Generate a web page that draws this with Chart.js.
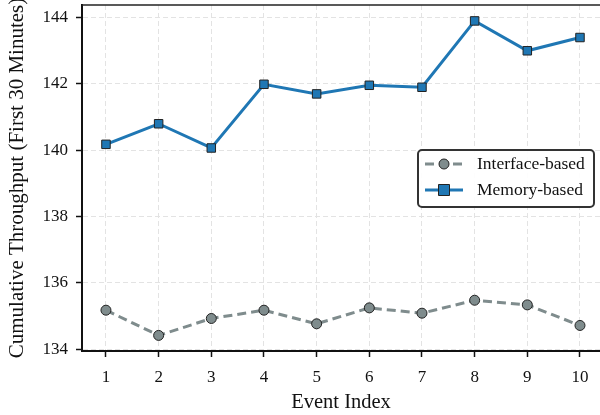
<!DOCTYPE html>
<html>
<head>
<meta charset="utf-8">
<script src="https://cdn.jsdelivr.net/npm/chart.js@4"></script>
<style>
  html, body { margin: 0; padding: 0; background: #fff; overflow: hidden; }
  #wrap { width: 600px; height: 415px; }
</style>
</head>
<body>
<div id="wrap"><canvas id="chart" width="600" height="415"></canvas></div>
<script>
  // data
  const eventIndex = [1, 2, 3, 4, 5, 6, 7, 8, 9, 10];
  const interfaceBased = [135.18, 134.42, 134.93, 135.18, 134.77, 135.25, 135.09, 135.48, 135.34, 134.72];
  const memoryBased = [140.18, 140.80, 140.07, 141.99, 141.70, 141.96, 141.90, 143.90, 143.00, 143.40];
  const yTicks = [134, 136, 138, 140, 142, 144];

  const serif = "'Liberation Serif', 'DejaVu Serif', serif";
  const gridCol = '#e3e3e3';

  // top spine + legend with line-and-marker samples
  const framePlugin = {
    id: 'frame',
    afterDraw(chart) {
      const ctx = chart.ctx;
      const a = chart.chartArea;
      ctx.save();
      ctx.strokeStyle = '#222';
      ctx.lineWidth = 1.5;
      ctx.beginPath();
      ctx.moveTo(a.left, a.top);
      ctx.lineTo(a.right, a.top);
      ctx.stroke();

      // legend box
      const bx = 418, by = 150, bw = 176, bh = 57, r = 4;
      ctx.fillStyle = 'rgba(255,255,255,0.9)';
      ctx.strokeStyle = '#333';
      ctx.lineWidth = 2;
      ctx.beginPath();
      ctx.roundRect(bx, by, bw, bh, r);
      ctx.fill();
      ctx.stroke();

      const rows = [164, 190];
      chart.data.datasets.forEach((ds, i) => {
        const y = rows[i];
        ctx.save();
        ctx.strokeStyle = ds.borderColor;
        ctx.lineWidth = ds.borderWidth;
        ctx.setLineDash(ds.borderDash || []);
        ctx.beginPath();
        ctx.moveTo(425, y);
        ctx.lineTo(463, y);
        ctx.stroke();
        ctx.setLineDash([]);
        ctx.fillStyle = ds.pointBackgroundColor;
        ctx.strokeStyle = ds.pointBorderColor;
        ctx.lineWidth = 1;
        ctx.beginPath();
        if (ds.pointStyle === 'rect') {
          ctx.rect(444 - 5.5, y - 5.5, 11, 11);
        } else {
          ctx.arc(444, y, 5, 0, Math.PI * 2);
        }
        ctx.fill();
        ctx.stroke();
        ctx.restore();

        ctx.fillStyle = '#111';
        ctx.font = '17.5px ' + serif;
        ctx.textBaseline = 'middle';
        ctx.fillText(ds.label, 477, y);
      });
      ctx.restore();
    }
  };

  new Chart(document.getElementById('chart'), {
    type: 'line',
    data: {
      datasets: [
        {
          label: 'Interface-based',
          data: eventIndex.map((x, i) => ({ x: x, y: interfaceBased[i] })),
          borderColor: '#7f8c8d',
          borderWidth: 3,
          borderDash: [9, 5],
          pointStyle: 'circle',
          pointRadius: 5,
          pointBackgroundColor: '#7f8c8d',
          pointBorderColor: '#222',
          pointBorderWidth: 1,
          tension: 0
        },
        {
          label: 'Memory-based',
          data: eventIndex.map((x, i) => ({ x: x, y: memoryBased[i] })),
          borderColor: '#1f77b4',
          borderWidth: 3,
          pointStyle: 'rect',
          pointRadius: 6,
          pointBackgroundColor: '#1f77b4',
          pointBorderColor: '#222',
          pointBorderWidth: 1,
          tension: 0
        }
      ]
    },
    options: {
      responsive: false,
      animation: false,
      layout: { autoPadding: false, padding: { top: 5, right: 0, left: 0, bottom: 0 } },
      plugins: {
        legend: { display: false },
        tooltip: { enabled: false }
      },
      scales: {
        x: {
          type: 'linear',
          min: 0.545,
          max: 10.38,
          afterFit: s => { s.height = 64; s.paddingLeft = 0; s.paddingRight = 0; },
          afterBuildTicks: s => { s.ticks = eventIndex.map(v => ({ value: v })); },
          ticks: {
            color: '#111',
            font: { family: serif, size: 17 },
            padding: 10,
            maxRotation: 0
          },
          grid: {
            color: gridCol,
            lineWidth: 1,
            tickLength: 6,
            tickColor: '#111',
            tickWidth: 1.5,
            tickBorderDash: []
          },
          border: { display: true, color: '#111', width: 2, dash: [5, 3] },
          title: {
            display: true,
            text: 'Event Index',
            color: '#111',
            font: { family: serif, size: 20.5 },
            padding: { top: 2, bottom: 0 }
          }
        },
        y: {
          min: 133.95,
          max: 144.38,
          afterFit: s => { s.width = 82; s.paddingTop = 0; s.paddingBottom = 0; },
          afterBuildTicks: s => { s.ticks = yTicks.map(v => ({ value: v })); },
          ticks: {
            color: '#111',
            font: { family: serif, size: 17 },
            padding: 8
          },
          grid: {
            color: gridCol,
            lineWidth: 1,
            tickLength: 6,
            tickColor: '#111',
            tickWidth: 1.5,
            tickBorderDash: []
          },
          border: { display: true, color: '#111', width: 2, dash: [5, 3] },
          title: {
            display: true,
            text: 'Cumulative Throughput (First 30 Minutes)',
            color: '#111',
            font: { family: serif, size: 21 },
            padding: { top: 4.5, bottom: 2 }
          }
        }
      }
    },
    plugins: [framePlugin]
  });
</script>
</body>
</html>
